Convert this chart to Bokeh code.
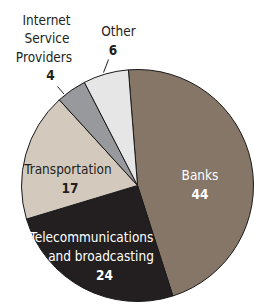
import math
from bokeh.plotting import figure
from bokeh.models import Range1d, ColumnDataSource
from bokeh.core.properties import value
from bokeh.embed import file_html
from bokeh.resources import INLINE

# ---- data ----
categories = ["Banks", "Telecommunications and broadcasting", "Transportation",
              "Internet Service Providers", "Other"]
values = [44, 24, 17, 4, 6]
colors = ["#857667", "#231f20", "#d3c9bd", "#98999c", "#e6e6e6"]
label_lines = [["Banks"], ["Telecommunications", "and broadcasting"], ["Transportation"],
               ["Internet", "Service", "Providers"], ["Other"]]

W, H = 254, 305
FONT = "DejaVu Sans Condensed"

def px(x):
    return x

def py(y):
    return H - y

p = figure(width=W, height=H, output_backend="svg", toolbar_location=None,
           x_range=Range1d(0, W), y_range=Range1d(0, H), min_border=0)
p.axis.visible = False
p.grid.visible = False
p.outline_line_color = None
p.background_fill_color = "white"

# pie geometry
cx, cy, r = px(137), py(185), 116
start_deg = 94.5
total = sum(values)
starts, ends = [], []
a = math.radians(start_deg)
for v in values:
    sweep = 2 * math.pi * v / total
    starts.append(a)
    ends.append(a - sweep)
    a -= sweep

src = ColumnDataSource(dict(start=starts, end=ends, color=colors, cat=categories))
p.wedge(x=cx, y=cy, radius=r, start_angle="start", end_angle="end", direction="clock",
        fill_color="color", line_color="#1a1a1a", line_width=1, source=src)

# label layout (image pixel coords): name lines, number position
layout = [
    dict(names=[(199.5, 174)], num=(199.5, 193.5), color="white"),
    dict(names=[(91, 236.5), (100.5, 255.5)], num=(104, 274.5), color="white"),
    dict(names=[(67.5, 168)], num=(69.5, 187), color="#231f20"),
    dict(names=[(46, 19), (46.5, 37.5), (43.5, 56)], num=(50, 74), color="#231f20"),
    dict(names=[(118, 30.5)], num=(112.5, 49), color="#231f20"),
]

for i, lay in enumerate(layout):
    for (x, y), txt in zip(lay["names"], label_lines[i]):
        p.text(x=[px(x)], y=[py(y)], text=[txt], text_font=value(FONT),
               text_font_size="13.5px", text_align="center", text_baseline="middle",
               text_color=lay["color"])
    nx, ny = lay["num"]
    p.text(x=[px(nx)], y=[py(ny)], text=[str(values[i])], text_font=value(FONT),
           text_font_size="13.5px", text_font_style="bold", text_align="center",
           text_baseline="middle", text_color=lay["color"])

# leader lines
p.segment(x0=[px(57), px(108)], y0=[py(86), py(59)], x1=[px(63.5), px(103)],
          y1=[py(93.5), py(72)], line_color="#231f20", line_width=1)

open("out.html", "w").write(file_html(p, INLINE))
